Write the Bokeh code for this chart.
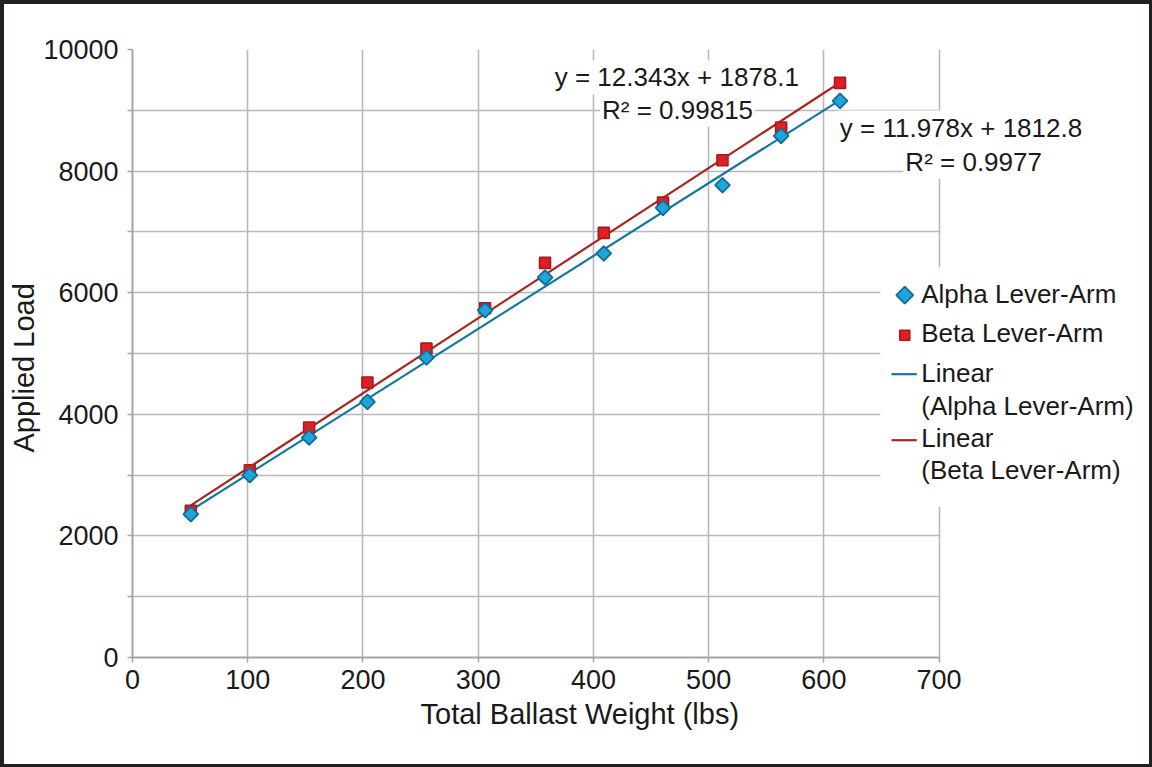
import numpy as np
from bokeh.plotting import figure
from bokeh.models import Range1d, FixedTicker, Label, Title
from bokeh.embed import file_html
from bokeh.resources import INLINE

# ---- data ----
ballast_lbs = [50.6, 101.8, 153.3, 203.9, 255.1, 306.0, 358.0, 409.0, 460.4, 512.0, 562.9, 614.0]
alpha_load = [2357, 2998, 3618, 4204, 4934, 5712, 6250, 6645, 7395, 7768, 8579, 9155]
beta_load = [2411, 3081, 3783, 4523, 5080, 5745, 6490, 6984, 7484, 8179, 8717, 9451]
series_names = ["Alpha Lever-Arm", "Beta Lever-Arm"]
trend_slopes = [11.978, 12.343]
trend_intercepts = [1812.8, 1878.1]
trend_r2 = [0.9977, 0.99815]
x_ticks = [0, 100, 200, 300, 400, 500, 600, 700]
y_ticks = [0, 2000, 4000, 6000, 8000, 10000]
y_minor_ticks = [1000, 3000, 5000, 7000, 9000]
x_title = "Total Ballast Weight (lbs)"
y_title = "Applied Load"

# ---- layout / style ----
FONT = "Liberation Sans"
GRID = "#b8b8be"
AXIS = "#a3a3aa"
TXT = "#1a1a1a"
ALPHA_FILL, ALPHA_LINE, ALPHA_TREND = "#20a4dc", "#0f6e96", "#13789f"
BETA_FILL, BETA_LINE, BETA_TREND = "#e21d25", "#9e1f1d", "#a8261f"

W, H = 1152, 767
MB_L, MB_R, MB_T, MB_B = 128, 12, 45, 114
X_AXIS_MAX = x_ticks[-1]
PX_PER_UNIT = 806.6 / X_AXIS_MAX           # horizontal scale of the plotted box
x_end = (W - MB_L - MB_R) / PX_PER_UNIT      # frame runs on past 700 to host legend/labels
TEXT_DY = 155                                # baseline correction for labels (data units)

p = figure(width=W, height=H, output_backend="svg", toolbar_location=None,
           x_range=Range1d(0, x_end), y_range=Range1d(y_ticks[0], y_ticks[-1]),
           min_border_left=MB_L, min_border_right=MB_R, min_border_top=MB_T, min_border_bottom=MB_B,
           background_fill_color="white", border_fill_color="white")
p.styles = {"border-left": "4px solid #231f20", "border-top": "4px solid #231f20",
            "border-right": "3px solid #231f20", "border-bottom": "3px solid #231f20"}
p.outline_line_color = None

# axes
p.xaxis.ticker = FixedTicker(ticks=x_ticks)
p.xaxis.bounds = (x_ticks[0], x_ticks[-1])
p.yaxis.ticker = FixedTicker(ticks=y_ticks, minor_ticks=y_minor_ticks)
for ax in (p.xaxis[0], p.yaxis[0]):
    ax.axis_line_color = AXIS
    ax.axis_line_width = 2
    ax.major_tick_line_color = AXIS
    ax.major_tick_line_width = 1.5
    ax.major_tick_out = 5
    ax.major_tick_in = 0
    ax.minor_tick_line_color = AXIS
    ax.minor_tick_line_width = 1.5
    ax.minor_tick_out = 5
    ax.minor_tick_in = 0
    ax.major_label_text_font = FONT
    ax.major_label_text_font_size = "27px"
    ax.major_label_text_color = TXT
p.xaxis.major_label_standoff = 7
p.yaxis.major_label_standoff = 9
p.xaxis.minor_tick_line_color = None

# axis titles as side titles (positioned like the reference)
p.add_layout(Title(text=x_title, align="left", offset=288, standoff=8,
                   text_font=FONT, text_font_size="29px", text_font_style="normal",
                   text_color=TXT), "below")
p.add_layout(Title(text=y_title, align="left", offset=205, standoff=2,
                   text_font=FONT, text_font_size="29px", text_font_style="normal",
                   text_color=TXT), "left")

p.xgrid.grid_line_color = GRID
p.xgrid.grid_line_width = 1.6
p.ygrid.grid_line_color = GRID
p.ygrid.grid_line_width = 1.6
p.ygrid.minor_grid_line_color = GRID
p.ygrid.minor_grid_line_width = 1.6
p.ygrid.cross_bounds = (x_ticks[0], x_ticks[-1])

# trend lines
x_arr = np.array(ballast_lbs)
x_end_pts = np.array([x_arr.min(), x_arr.max()])
trend_cols = [ALPHA_TREND, BETA_TREND]
for slope, icpt, col in zip(trend_slopes, trend_intercepts, trend_cols):
    p.line(x_end_pts, slope * x_end_pts + icpt, line_color=col, line_width=2.2)

# scatter points
p.scatter(ballast_lbs, beta_load, marker="square", size=11,
          fill_color=BETA_FILL, line_color=BETA_LINE, line_width=1.6)
p.scatter(ballast_lbs, alpha_load, marker="square", angle=np.pi / 4, size=10.5,
          fill_color=ALPHA_FILL, line_color=ALPHA_LINE, line_width=1.8)

# equation labels (one label per line, white backdrop)
eq_pos = [  # (x, y) data positions for [equation, R2] of Alpha then Beta
    [(719, 8561), (730, 7998)],
    [(472.4, 9385), (473, 8854)],
]
for i in range(2):
    texts = [f"y = {trend_slopes[i]}x + {trend_intercepts[i]}", f"R² = {trend_r2[i]}"]
    for (lx, ly), t in zip(eq_pos[i], texts):
        p.add_layout(Label(x=lx, y=ly + TEXT_DY, text=t, text_align="center", text_baseline="alphabetic",
                           text_font=FONT, text_font_size="26px", text_color=TXT,
                           background_fill_color="white", padding=2))

# ---- legend (drawn by hand so the diamond icon keeps its rotation) ----
LEG_BOX = dict(left=649, right=880, bottom=2480, top=6420)
p.quad(fill_color="white", line_color=None, **LEG_BOX)
icon_x = 670.2
line_x = [658.7, 680.6]
text_x = 684.5
# markers
p.scatter([icon_x], [5959], marker="square", angle=np.pi / 4, size=12,
          fill_color=ALPHA_FILL, line_color=ALPHA_LINE, line_width=1.8)
p.scatter([icon_x], [5301], marker="square", size=10,
          fill_color=BETA_FILL, line_color=BETA_LINE, line_width=1.6)
for ly, col in zip([4660, 3574], trend_cols):
    p.line(line_x, [ly, ly], line_color=col, line_width=2.2)
legend_lines = [
    (series_names[0], 5822),
    (series_names[1], 5174),
    ("Linear", 4523),
    ("(" + series_names[0] + ")", 3974),
    ("Linear", 3454),
    ("(" + series_names[1] + ")", 2933),
]
for t, ly in legend_lines:
    p.add_layout(Label(x=text_x, y=ly + TEXT_DY, text=t, text_align="left", text_baseline="alphabetic",
                       text_font=FONT, text_font_size="26px", text_color=TXT))

open("out.html", "w").write(file_html(p, INLINE))
